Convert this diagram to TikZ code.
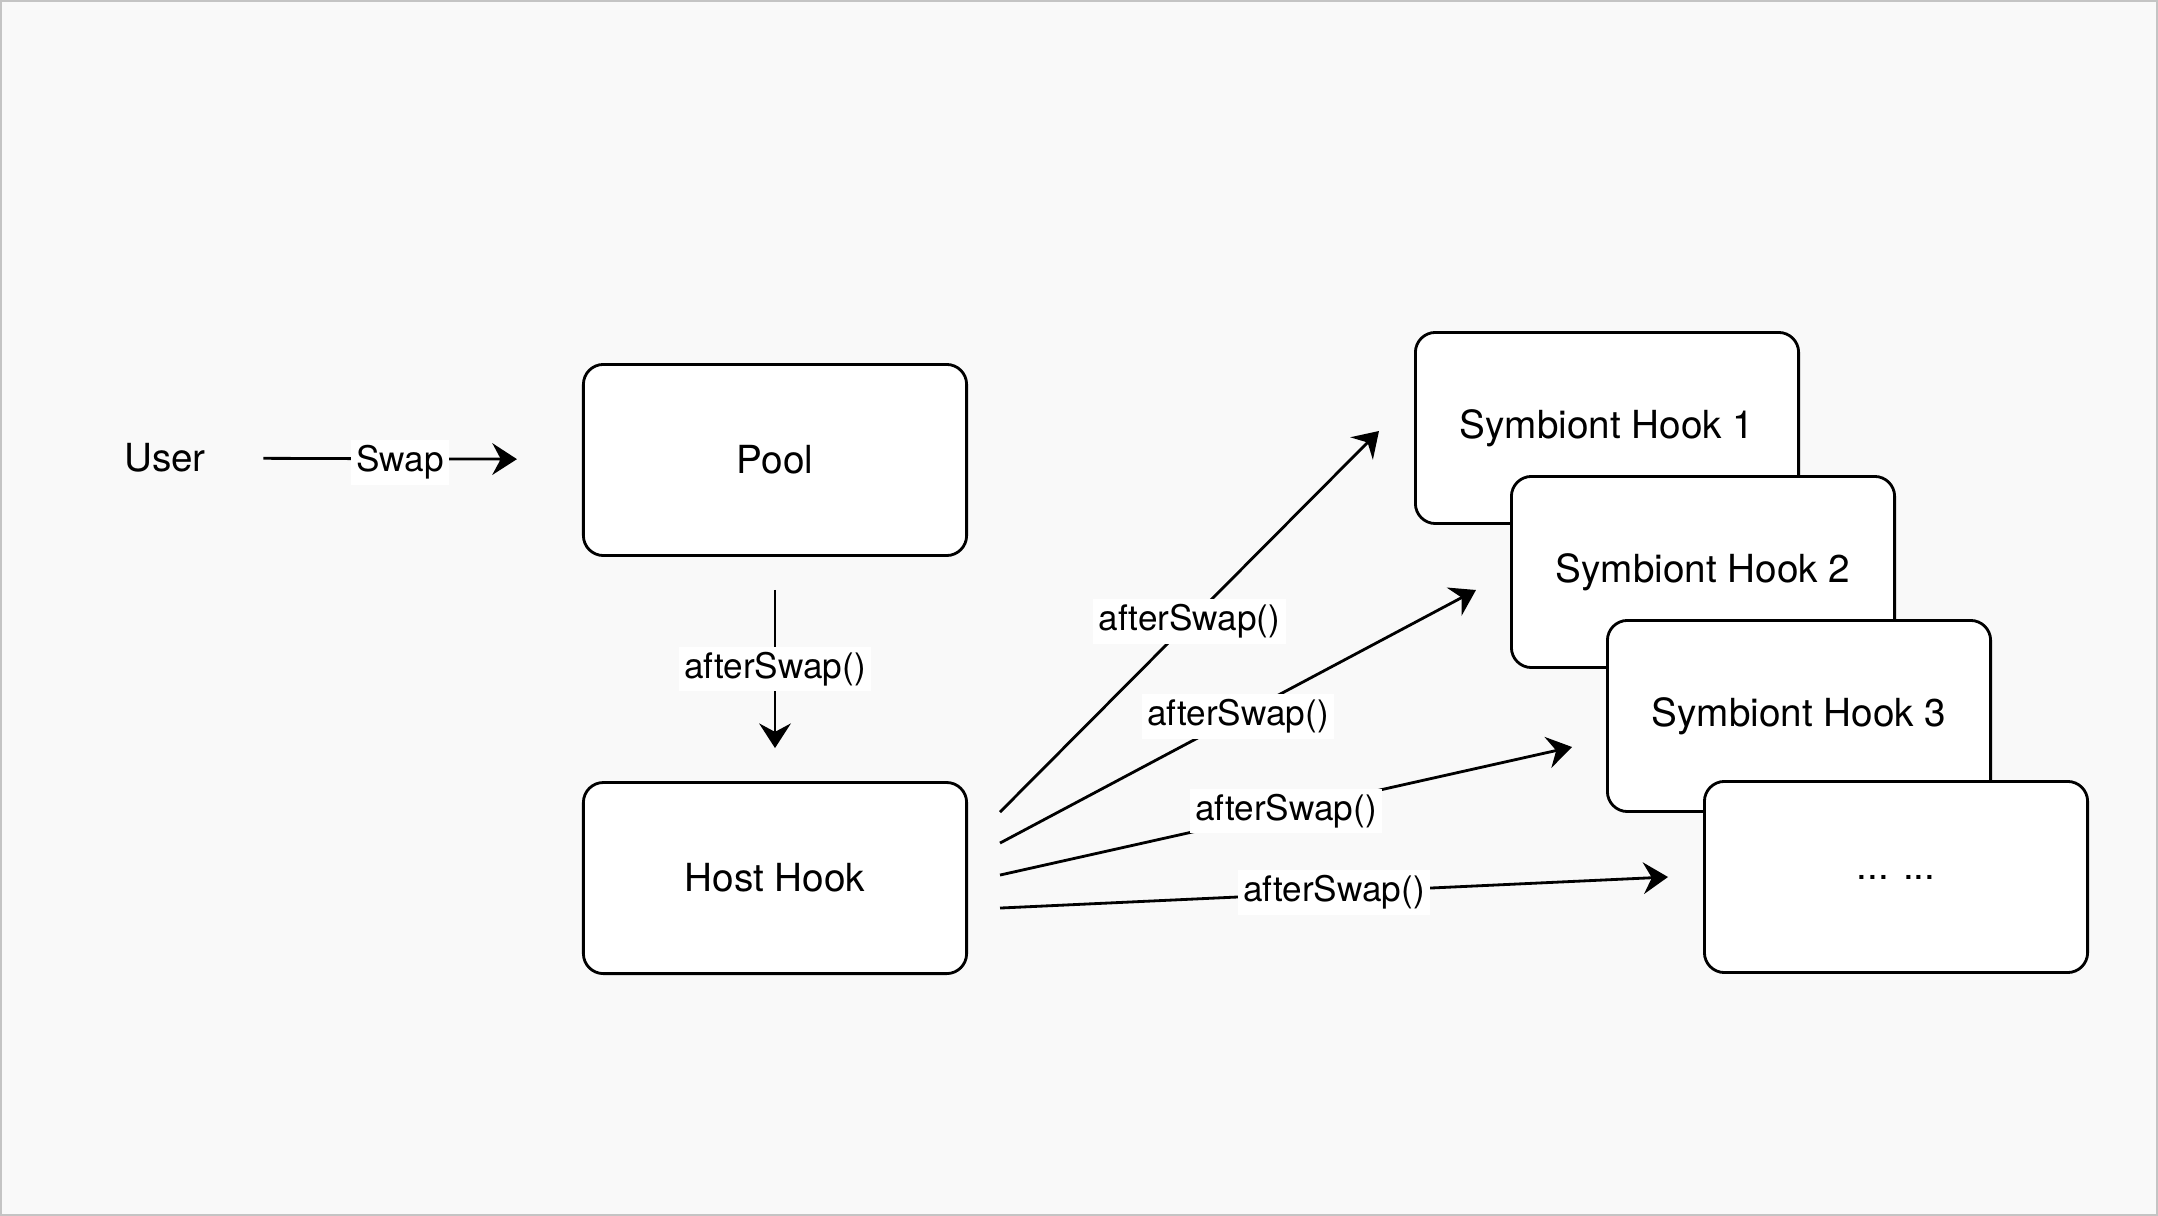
\documentclass[tikz,border=0pt]{standalone}
\usepackage{fontspec}
\setmainfont{TeX Gyre Heros}
\usetikzlibrary{arrows.meta,positioning}

\definecolor{pagebg}{HTML}{F9F9F9}
\definecolor{frameline}{HTML}{C4C4C4}

\begin{document}
\begin{tikzpicture}[%
    x=0.01cm, y=-0.01cm,        % one unit is one pixel of the sketch
    >={Stealth[length=7pt,width=9pt,inset=2.4pt]},
    node distance=2.24cm,       % Pool to Host Hook
    ]
% -------------------------------------------------
% Box and line styles
\tikzset{
  base/.style={draw, line width=0.8pt, align=center, font=\fontsize{11}{13}\selectfont},
  hook/.style={base, fill=white, rounded corners=0.2cm,
    minimum width=3.83cm, minimum height=1.91cm},
  plain/.style={font=\fontsize{11}{13}\selectfont},
  call/.style={->, line width=0.8pt, black},
  lbl/.style={fill=white, inner sep=1.5pt, font=\fontsize{10}{12}\selectfont}
}
% -------------------------------------------------
% Page background and frame
\fill[pagebg] (0,0) rectangle (2158,1216);
\draw[frameline, line width=0.02cm] (1,1) rectangle (2157,1215);

% -------------------------------------------------
% Start by placing the nodes
\node [plain] (user) at (165,458) {User};
\node [hook] (pool) at (775,460) {Pool};
\node [hook, below = of pool] (host) {Host Hook};

% symbiont hooks, stacked; later ones cover earlier ones
\node [hook] (s1) at (1607,428) {Symbiont Hook 1};
\node [hook] (s2) at ([shift={(96,144)}]s1) {Symbiont Hook 2};
\node [hook] (s3) at ([shift={(96,144)}]s2) {Symbiont Hook 3};
\node [hook] (dots) at ([shift={(97,161)}]s3) {... ...};

% free ends of the fan of calls
\coordinate (o1) at ([shift={(32,-66)}]host.east);
\coordinate (o2) at ([shift={(32,-35)}]host.east);
\coordinate (o3) at ([shift={(32,-3)}]host.east);
\coordinate (o4) at ([shift={(32,30)}]host.east);
\coordinate (t1) at ([shift={(-35,3)}]s1.west);
\coordinate (t2) at ([shift={(-34,18)}]s2.west);
\coordinate (t3) at ([shift={(-34,31)}]s3.west);
\coordinate (t4) at ([shift={(-35,0)}]dots.west);

% -------------------------------------------------
% Connectors
\draw[call, shorten <=0.45cm, shorten >=0.65cm] (user) -- (pool)
  node[lbl, midway, yshift=-1pt] {Swap};		%User,Pool
\draw[call, shorten <=0.33cm, shorten >=0.33cm] (pool) -- (host)
  node[lbl, midway] {afterSwap()};		%Pool,Host Hook
\draw[call] (o1) -- (t1) node[lbl, midway] {afterSwap()};		%Host Hook,Symbiont Hook 1
\draw[call] (o2) -- (t2) node[lbl, midway] {afterSwap()};		%Host Hook,Symbiont Hook 2
\draw[call] (o3) -- (t3) node[lbl, midway] {afterSwap()};		%Host Hook,Symbiont Hook 3
\draw[call] (o4) -- (t4) node[lbl, midway] {afterSwap()};		%Host Hook,... ...

% -------------------------------------------------
\end{tikzpicture}
\end{document}
